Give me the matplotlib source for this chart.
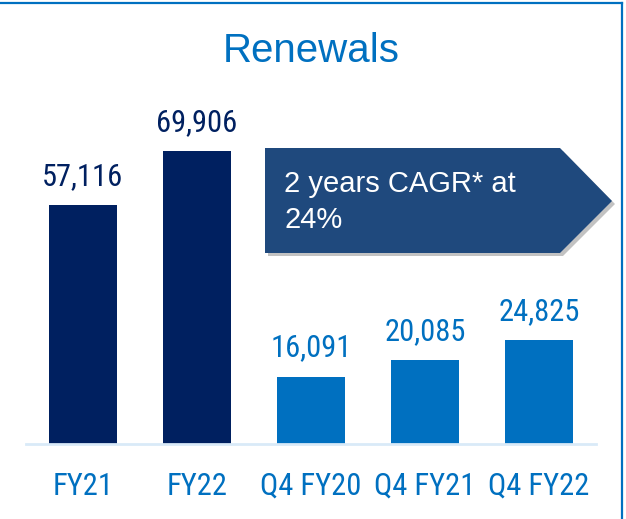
import matplotlib
matplotlib.use("Agg")
import matplotlib.pyplot as plt
from matplotlib.patches import Polygon
from matplotlib.lines import Line2D

categories = ["FY21", "FY22", "Q4 FY20", "Q4 FY21", "Q4 FY22"]
values = [57116, 69906, 16091, 20085, 24825]
bar_colors = ["#002060", "#002060", "#0070C0", "#0070C0", "#0070C0"]
title = "Renewals"
callout = "2 years CAGR* at\n24%"

narrow = ["Roboto Condensed", "PT Sans Narrow", "Liberation Sans"]
regular = ["Liberation Sans", "DejaVu Sans"]

W, H = 626, 519
fig = plt.figure(figsize=(W / 100, H / 100), dpi=100)
fig.patch.set_facecolor("white")

def fx(px):
    return px / W

def fy(py):
    return 1 - py / H

ax = fig.add_axes([fx(26), fy(444), fx(596) - fx(26), fy(60) - fy(444)])
x = list(range(len(categories)))
ax.bar(x, values, width=0.59, color=bar_colors, zorder=2)
ax.set_xlim(-0.5, 4.5)
ax.set_ylim(0, 91650)
for s in ["top", "right", "left"]:
    ax.spines[s].set_visible(False)
ax.spines["bottom"].set_color("#D9EAF8")
ax.spines["bottom"].set_linewidth(2)
ax.set_yticks([])
ax.set_xticks(x)
ax.set_xticklabels(categories, fontsize=22, color="#0070C0", family=narrow)
ax.tick_params(axis="x", length=0, pad=20)

for xi, v, c in zip(x, values, bar_colors):
    ax.annotate(f"{v:,}", (xi, v), xytext=(0, 14.4), textcoords="offset points",
                ha="center", va="baseline", fontsize=22, color=c, family=narrow)

fig.text(fx(311), fy(51), title, ha="center", va="center", fontsize=29,
         color="#0070C0", family=regular)

# callout arrow with shadow
pts = [(265, 148), (560, 148), (612, 201), (560, 253), (265, 253)]
shadow = Polygon([(fx(px + 3), fy(py + 3)) for px, py in pts], closed=True,
                 transform=fig.transFigure, facecolor="#9A9A9A", edgecolor="none",
                 alpha=0.6, zorder=3)
fig.patches.append(shadow)
arrow = Polygon([(fx(px), fy(py)) for px, py in pts], closed=True,
                transform=fig.transFigure, facecolor="#1F497D", edgecolor="none", zorder=4)
fig.patches.append(arrow)
fig.text(fx(284), fy(202), callout, ha="left", va="center", fontsize=21,
         color="white", family=regular, linespacing=1.35, zorder=5)

# border lines
fig.lines.append(Line2D([0, fx(622)], [fy(2.5), fy(2.5)], transform=fig.transFigure,
                        color="#0070C0", linewidth=1.6))
fig.lines.append(Line2D([fx(622), fx(622)], [fy(2.5), 0], transform=fig.transFigure,
                        color="#0070C0", linewidth=1.6))

fig.savefig("out.png", dpi=100)
